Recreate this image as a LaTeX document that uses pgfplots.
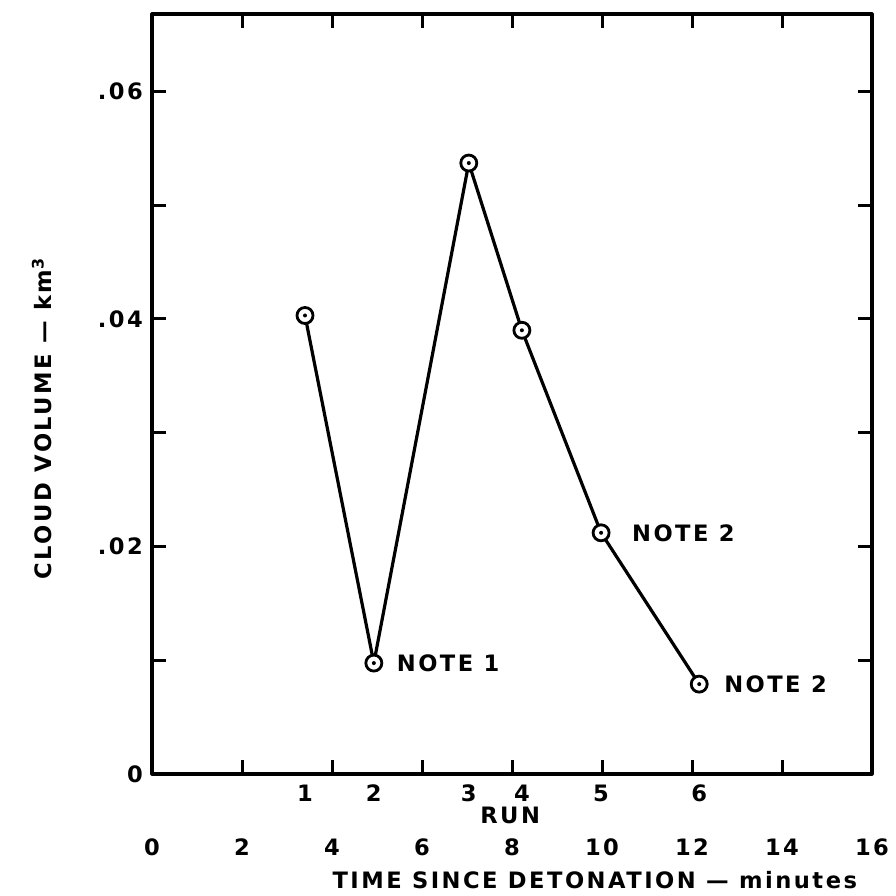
\documentclass[border=0pt]{standalone}
\usepackage{fontspec}
\setmainfont{DejaVu Sans}[LetterSpace=11]
\usepackage{pgfplots}
\pgfplotsset{compat=1.18}
\pgfdeclareplotmark{circdot}{%
  \pgfpathcircle{\pgfpoint{0pt}{0pt}}{\pgfplotmarksize}%
  \pgfsetfillcolor{white}\pgfusepathqfillstroke
  \pgfpathcircle{\pgfpoint{0pt}{0pt}}{1pt}%
  \pgfsetfillcolor{black}\pgfusepathqfill}
\begin{document}
\begin{tikzpicture}[font=\fontsize{11.3}{13}\selectfont\bfseries]
\path[use as bounding box] (0,0) rectangle (448pt,448pt);
\begin{axis}[
  at={(76pt,61pt)}, anchor=south west,
  scale only axis, width=360pt, height=380pt,
  xmin=0, xmax=16, ymin=0, ymax=0.0668,
  axis line style={line width=1.6pt, line cap=round, line join=round},
  every tick/.style={line width=1.5pt, black},
  major tick length=7pt,
  xtick={0,2,4,6,8,10,12,14,16},
  xticklabels={0,2,4,6,8,10,12,14,16},
  ytick={0,0.01,0.02,0.03,0.04,0.05,0.06},
  yticklabels={0,,.02,,.04,,.06},
  xticklabel style={anchor=center, yshift=-36.5pt},
  yticklabel style={xshift=-1pt},
  /pgf/number format/assume math mode=true,
  clip=false,
]
\addplot[black, line width=1.6pt, mark=circdot, mark size=4pt,
  mark options={line width=1.4pt}] coordinates {
  (3.40,0.0403) (4.93,0.00975) (7.04,0.0537) (8.22,0.0390) (9.98,0.0212) (12.16,0.0079)
};
\node[anchor=center, yshift=-9.5pt] at (axis cs:3.40,0) {1};
\node[anchor=center, yshift=-9.5pt] at (axis cs:4.93,0) {2};
\node[anchor=center, yshift=-9.5pt] at (axis cs:7.04,0) {3};
\node[anchor=center, yshift=-9.5pt] at (axis cs:8.22,0) {4};
\node[anchor=center, yshift=-9.5pt] at (axis cs:9.98,0) {5};
\node[anchor=center, yshift=-9.5pt] at (axis cs:12.16,0) {6};
\node[anchor=center, yshift=-20.5pt] at (axis cs:7.96,0) {RUN};
\node[anchor=center, yshift=-53pt] at (rel axis cs:0.615,0) {TIME SINCE DETONATION — minutes};
\node[anchor=center, rotate=90] at ([xshift=-55pt]rel axis cs:0,0.468) {CLOUD VOLUME — km\textsuperscript{3}};
\node[anchor=west, xshift=8pt] at (axis cs:4.93,0.00975) {NOTE 1};
\node[anchor=west, xshift=12pt] at (axis cs:9.98,0.0212) {NOTE 2};
\node[anchor=west, xshift=9pt] at (axis cs:12.16,0.0079) {NOTE 2};
\end{axis}
\end{tikzpicture}
\end{document}
